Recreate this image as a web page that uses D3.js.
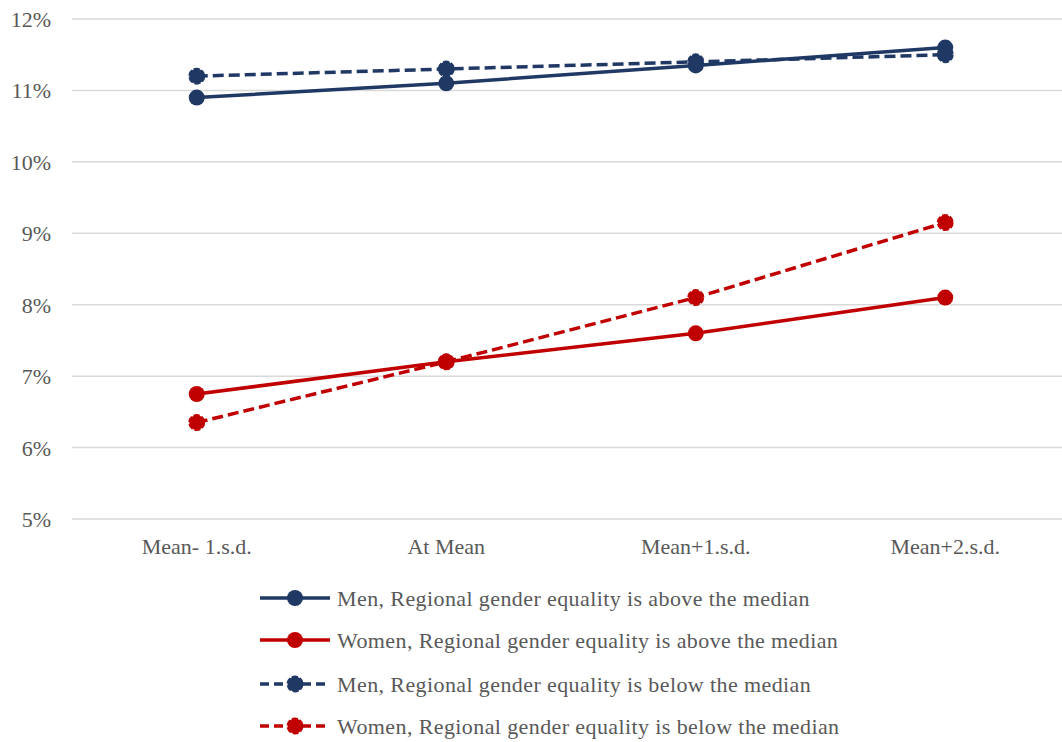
<!DOCTYPE html>
<html>
<head>
<meta charset="utf-8">
<script src="https://cdn.jsdelivr.net/npm/d3@7"></script>
<style>
  html, body { margin: 0; padding: 0; background: #fff; }
  svg { display: block; }
  text { font-family: "Liberation Serif", "DejaVu Serif", serif; fill: #595959; }
</style>
</head>
<body>
<svg id="chart" width="1062" height="742"></svg>
<script>
// Categories on the x axis
const categories = ["Mean- 1.s.d.", "At Mean", "Mean+1.s.d.", "Mean+2.s.d."];

// Percentage values for each series
const menAbove   = [10.9, 11.1, 11.35, 11.6];
const womenAbove = [6.75, 7.2, 7.6, 8.1];
const menBelow   = [11.2, 11.3, 11.4, 11.5];
const womenBelow = [6.35, 7.2, 8.1, 9.15];

// Y axis ticks
const yTicks = [5, 6, 7, 8, 9, 10, 11, 12];

const seriesNames = [
  "Men, Regional gender equality is above the median",
  "Women, Regional gender equality is above the median",
  "Men, Regional gender equality is below the median",
  "Women, Regional gender equality is below the median"
];

const NAVY = "#203864";
const RED = "#C00000";

const series = [
  { name: seriesNames[0], values: menAbove,   color: NAVY, dashed: false },
  { name: seriesNames[1], values: womenAbove, color: RED,  dashed: false },
  { name: seriesNames[2], values: menBelow,   color: NAVY, dashed: true },
  { name: seriesNames[3], values: womenBelow, color: RED,  dashed: true }
];

const FONT = "'Liberation Serif', 'DejaVu Serif', serif";

const svg = d3.select("#chart");

const x = d3.scaleBand().domain(categories).range([72, 1070]);
const y = d3.scaleLinear().domain([5, 12]).range([519, 19]);

// Horizontal gridlines
svg.append("g")
  .selectAll("line")
  .data(yTicks)
  .join("line")
  .attr("x1", 72).attr("x2", 1062)
  .attr("y1", d => y(d)).attr("y2", d => y(d))
  .attr("stroke", "#d9d9d9")
  .attr("stroke-width", 1.5);

// Y axis labels
const yAxis = svg.append("g")
  .attr("transform", "translate(72,0)")
  .call(d3.axisLeft(y).tickValues(yTicks).tickFormat(d => d + "%").tickSize(0).tickPadding(21));
yAxis.select(".domain").remove();
yAxis.selectAll("text")
  .style("font-family", FONT)
  .style("font-size", "22px")
  .attr("fill", "#595959")
  .attr("dy", "0.34em");

// X axis labels
const xAxis = svg.append("g")
  .attr("transform", "translate(0,519)")
  .call(d3.axisBottom(x).tickSize(0).tickPadding(19));
xAxis.select(".domain").remove();
xAxis.selectAll("text")
  .style("font-family", FONT)
  .style("font-size", "22px")
  .attr("fill", "#595959");

const cx = c => x(c) + x.bandwidth() / 2;

const line = d3.line()
  .x((d, i) => cx(categories[i]))
  .y(d => y(d));

// Marker: solid series get a plain disc, dashed series a disc with a dashed rim
function marker(sel, s) {
  sel.attr("r", s.dashed ? 7.5 : 8)
    .attr("fill", s.color)
    .attr("stroke", s.color)
    .attr("stroke-width", s.dashed ? 2 : 0)
    .attr("stroke-dasharray", s.dashed ? "6,2" : null);
}

// Series lines and markers
series.forEach(s => {
  const g = svg.append("g");
  g.append("path")
    .datum(s.values)
    .attr("d", line)
    .attr("fill", "none")
    .attr("stroke", s.color)
    .attr("stroke-width", 3.5)
    .attr("stroke-dasharray", s.dashed ? "11,5" : null);
  g.selectAll("circle")
    .data(s.values)
    .join("circle")
    .attr("cx", (d, i) => cx(categories[i]))
    .attr("cy", d => y(d))
    .call(marker, s);
});

// Legend
const legend = svg.append("g");
const legendY = [598, 640, 684, 726];
series.forEach((s, i) => {
  const ly = legendY[i];
  legend.append("line")
    .attr("x1", 260).attr("x2", 330)
    .attr("y1", ly).attr("y2", ly)
    .attr("stroke", s.color)
    .attr("stroke-width", 3.5)
    .attr("stroke-dasharray", s.dashed ? "9,5" : null);
  legend.append("circle")
    .attr("cx", 295).attr("cy", ly)
    .call(marker, s);
  legend.append("text")
    .attr("x", 337).attr("y", ly)
    .attr("dy", "0.35em")
    .style("font-size", "22px")
    .style("letter-spacing", "0.4px")
    .text(s.name);
});
</script>
</body>
</html>
